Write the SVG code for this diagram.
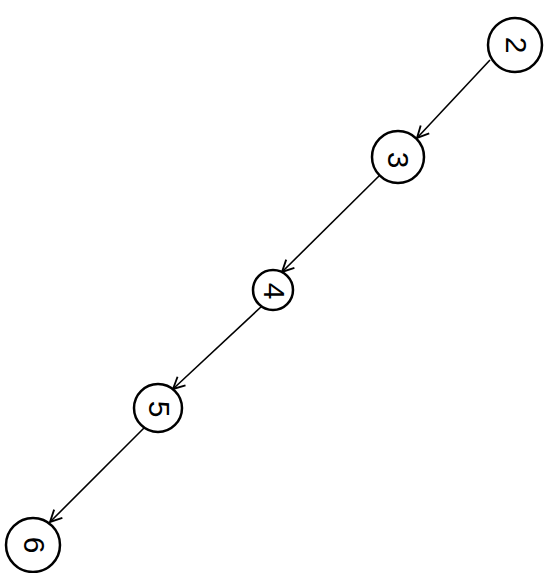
<svg xmlns="http://www.w3.org/2000/svg" width="552" height="573" viewBox="0 0 552 573">
<defs>
<marker id="arr" viewBox="0 0 12 12" refX="11" refY="6" markerWidth="14" markerHeight="14" markerUnits="userSpaceOnUse" orient="auto">
<path d="M1,1 L11,6 L1,11" fill="none" stroke="#000" stroke-width="1.6"/>
</marker>
<style>
.n circle{fill:#fff;stroke:#000;stroke-width:2.5}
.n text{font-family:"Liberation Sans",Arial,sans-serif;font-size:30px;fill:#000;text-anchor:middle;dominant-baseline:central}
.e line{stroke:#000;stroke-width:1.6;marker-end:url(#arr)}
</style>
</defs>
<rect width="552" height="573" fill="#fff"/>
<g id="edges" class="e">
<line x1="490" y1="60" x2="417" y2="138"/>
<line x1="380" y1="175" x2="282" y2="272"/>
<line x1="262" y1="306" x2="173" y2="389"/>
<line x1="144" y1="428" x2="50" y2="522"/>
</g>
<g id="n2" class="n"><circle cx="515" cy="45" r="27"/><text transform="translate(516,45) rotate(90)">2</text></g>
<g id="n3" class="n"><circle cx="398" cy="157" r="26"/><text transform="translate(398,160) rotate(90)">3</text></g>
<g id="n4" class="n"><circle cx="273" cy="290" r="20"/><text transform="translate(274,291) rotate(90)">4</text></g>
<g id="n5" class="n"><circle cx="158" cy="408" r="24"/><text transform="translate(159,409) rotate(90)">5</text></g>
<g id="n6" class="n"><circle cx="33" cy="545" r="27"/><text transform="translate(34,545) rotate(90)">6</text></g>
</svg>
